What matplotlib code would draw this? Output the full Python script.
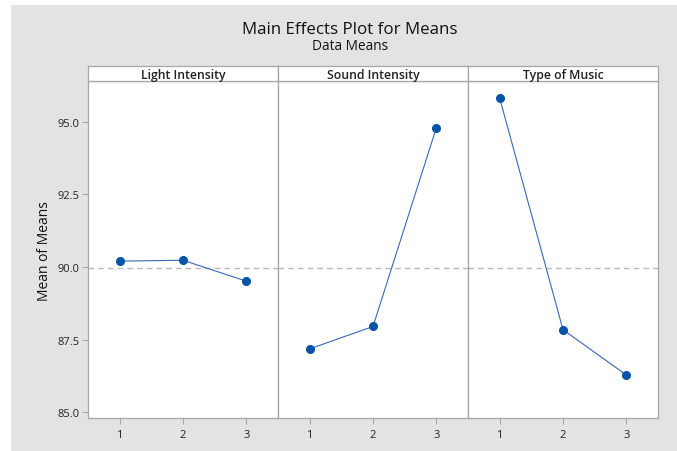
import numpy as np
import matplotlib
import matplotlib.pyplot as plt
from matplotlib.patches import Rectangle

matplotlib.use('Agg')

# Factor levels and means.
factors = ['Light Intensity', 'Sound Intensity', 'Type of Music']
levels = [1, 2, 3]
light_means = [90.20, 90.23, 89.51]
sound_means = [87.18, 87.95, 94.79]
music_means = [95.81, 87.84, 86.28]
y_ticks = [85.0, 87.5, 90.0, 92.5, 95.0]

plt.rcParams['font.family'] = ['Open Sans', 'DejaVu Sans']

W, H = 677, 452
fig = plt.figure(figsize=(W / 100, H / 100), dpi=100)
# Minitab style grey backdrop, with a thin white margin top and left.
fig.patch.set_facecolor('#e3e3e3')
fig.add_artist(Rectangle((0, 0), 11 / W, 1, transform=fig.transFigure,
                         facecolor='white', edgecolor='none', zorder=-10))
fig.add_artist(Rectangle((0, 1 - 6 / H), 1, 6 / H,
                         transform=fig.transFigure,
                         facecolor='white', edgecolor='none', zorder=-10))

left, right = 88 / W, 658 / W
bottom, top = 1 - 419 / H, 1 - 82.3 / H
strip_h = 15.6 / H
panel_w = (right - left) / 3

grand_mean = np.mean(light_means + sound_means + music_means)
spine_c = '#a6a6a6'
line_c = '#3a68b4'
mark_c = '#0454a8'

for i, (name, means) in enumerate(zip(factors,
                                      [light_means, sound_means,
                                       music_means])):
    x0 = left + i * panel_w
    ax = fig.add_axes([x0, bottom, panel_w, top - bottom])
    ax.set_facecolor('white')
    ax.axhline(grand_mean, color='#b8b8b8', lw=1.0, ls=(0, (4, 3)),
               zorder=1)
    ax.plot(levels, means, color=line_c, lw=0.8, zorder=2)
    ax.plot(levels, means, ls='none', marker='o', ms=5.5, color=mark_c,
            mec=mark_c, zorder=3)
    ax.set_xlim(0.5, 3.5)
    ax.set_ylim(84.80, 96.39)
    ax.set_xticks(levels)
    ax.set_xticklabels([str(v) for v in levels], fontsize=8,
                       color='#222222')
    ax.tick_params(axis='x', length=4, width=0.8, color=spine_c, pad=4)
    if i == 0:
        ax.set_yticks(y_ticks)
        ax.set_yticklabels([f'{v:.1f}' for v in y_ticks], fontsize=8,
                           color='#222222')
        ax.tick_params(axis='y', length=4, width=0.8, color=spine_c,
                       pad=2)
        ax.set_ylabel('Mean of Means', fontsize=10, color='#111111',
                      labelpad=4)
    else:
        ax.set_yticks([])
    for sp in ax.spines.values():
        sp.set_color(spine_c)
        sp.set_linewidth(0.9)

    # Panel header strip.
    sax = fig.add_axes([x0, top, panel_w, strip_h])
    sax.set_facecolor('white')
    sax.set_xticks([])
    sax.set_yticks([])
    for sp in sax.spines.values():
        sp.set_color(spine_c)
        sp.set_linewidth(0.9)
    sax.text(0.5, 0.45, name, ha='center', va='center', fontsize=8.8,
             fontweight='semibold', color='#222222',
             transform=sax.transAxes)

fig.text(350 / W, 1 - 30 / H, 'Main Effects Plot for Means',
         ha='center', va='center', fontsize=12.2, fontweight='medium',
         color='#111111')
fig.text(350 / W, 1 - 47 / H, 'Data Means', ha='center', va='center',
         fontsize=9.8, fontweight='medium', color='#111111')

fig.savefig('out.png', dpi=100)
